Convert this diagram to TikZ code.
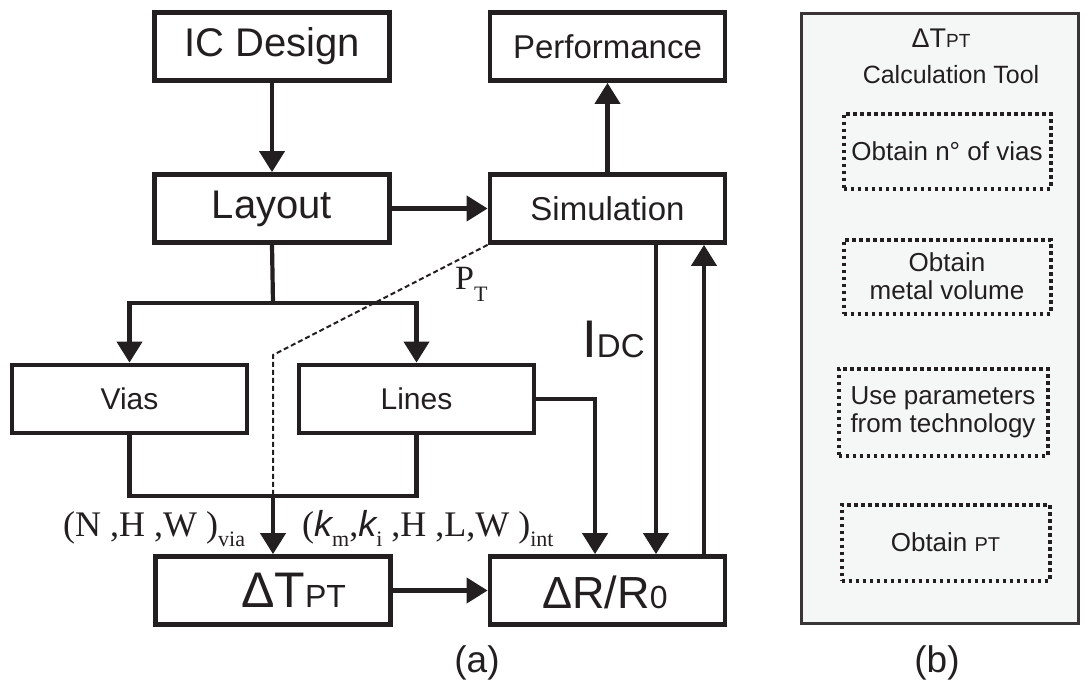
\documentclass[tikz,border=0pt]{standalone}
\usepackage{fontspec}
\setmainfont{Liberation Sans}
\newfontfamily\timesfont{Liberation Serif}
\newfontfamily\kfont{Liberation Sans}
\usetikzlibrary{arrows.meta}
\newcommand{\setfs}[1]{\fontsize{#1}{#1}\selectfont}
\newcommand{\lowsub}[1]{\raisebox{-10pt}{\setfs{22}#1}}
\definecolor{ink}{RGB}{35,31,32}
\definecolor{panelfill}{RGB}{245,247,247}
\begin{document}
\begin{tikzpicture}[x=1pt,y=-1pt,
  box/.style={draw=ink, line width=4.8pt, minimum width=235pt, minimum height=68pt, inner sep=0pt, text=ink},
  link/.style={draw=ink, line width=4.2pt},
  arr/.style={link, -{Triangle[length=21pt,width=25pt]}},
  dashlink/.style={draw=ink, line width=2pt, dash pattern=on 5pt off 3pt},
  dotbox/.style={draw=ink, line width=4pt, dash pattern=on 3.6pt off 3.4pt, inner sep=0pt, align=center, text=ink, font=\fontsize{26}{28}\selectfont},
  lbl/.style={inner sep=0pt, text=ink},
  serif/.style={lbl, font=\timesfont\setfs{36}}
]
\useasboundingbox (0,0) rectangle (1089,688);

% --- flow (a) ---
\node[box, font=\setfs{40}] (ic) at (272,46.5) {IC Design};
\node[box, font=\setfs{40}] (layout) at (272,208.5) {Layout};
\node[box, font=\setfs{33}] (perf) at (607.5,46.5) {Performance};
\node[box, font=\setfs{33}] (sim) at (607.5,208.5) {Simulation};
\node[box, font=\setfs{30}] (vias) at (129.5,399) {Vias};
\node[box, font=\setfs{30}] (lines) at (416.5,399) {Lines};
\node[box] (dt) at (273,590.5) {};
\node[box] (dr) at (607.5,590.5) {};
\node[lbl, anchor=base, font=\setfs{50}] (dttext) at (293.5,607) {ΔT{\setfs{32}PT}};
\node[lbl, anchor=base, font=\setfs{45}] (drtext) at (605,608) {ΔR/R{\setfs{32}0}};

\coordinate (split) at (273,303);
\coordinate (join) at (273,496);
\coordinate (bend) at (273,355);

\draw[arr] (ic) -- (layout);
\draw[arr] (layout) -- (sim);
\draw[arr] (sim) -- (perf);
\draw[link] (layout.south) -- (split);
\draw[arr] (split) -| (vias.north);
\draw[arr] (split) -| (lines.north);
\draw[link] (vias.south) |- (join) -| (lines.south);
\draw[arr] (join) -- (dt.north);
\draw[arr] (dt) -- (dr);
\draw[arr] (lines.east) -| ([xshift=-12.5pt]dr.north);
\draw[arr] ([xshift=48.5pt]sim.south) -- ([xshift=48.5pt]dr.north);
\draw[arr] ([xshift=96.5pt]dr.north) -- ([xshift=96.5pt]sim.south);
\draw[dashlink] (sim.south west) -- (bend) -- (join);

% --- labels ---
\node[serif, anchor=base west, font=\timesfont\setfs{34}] (pt) at (455,289) {P\raisebox{-12pt}{\setfs{22}T}};
\node[lbl, anchor=base west, font=\setfs{53}] (idc) at (582,357) {I{\setfs{33}DC}};
\node[serif, anchor=base west] (via) at (63,536) {(N ,H ,W )\lowsub{via}};
\node[serif, anchor=base west] (int) at (302,536) {({\kfont\itshape k}\lowsub{m},{\kfont\itshape k}\lowsub{i} ,H ,L,W )\lowsub{int}};
\node[lbl, anchor=base, font=\setfs{37}] (capa) at (477,672) {(a)};

% --- panel (b) ---
\node[draw=ink!90, line width=3pt, fill=panelfill, minimum width=277pt, minimum height=610pt, inner sep=0pt] (tool) at (940,318.5) {};
\node[lbl, anchor=base, font=\setfs{27}] (tooltitle) at (941,47) {ΔT{\setfs{19}PT}};
\node[lbl, anchor=base, font=\setfs{25}] (tooltitle2) at (951,83) {Calculation Tool};
\node[dotbox, minimum width=207pt, minimum height=75pt] (s1) at (947,151) {Obtain n° of vias};
\node[dotbox, minimum width=207pt, minimum height=74pt] (s2) at (947,276.5) {Obtain\\metal volume};
\node[dotbox, minimum width=209pt, minimum height=87pt] (s3) at (943,412) {Use parameters\\from technology};
\node[dotbox, minimum width=208pt, minimum height=76pt] (s4) at (945.5,542.5) {Obtain {\setfs{20}PT}};
\node[lbl, anchor=base, font=\setfs{37}] (capb) at (937,672) {(b)};
\end{tikzpicture}
\end{document}
